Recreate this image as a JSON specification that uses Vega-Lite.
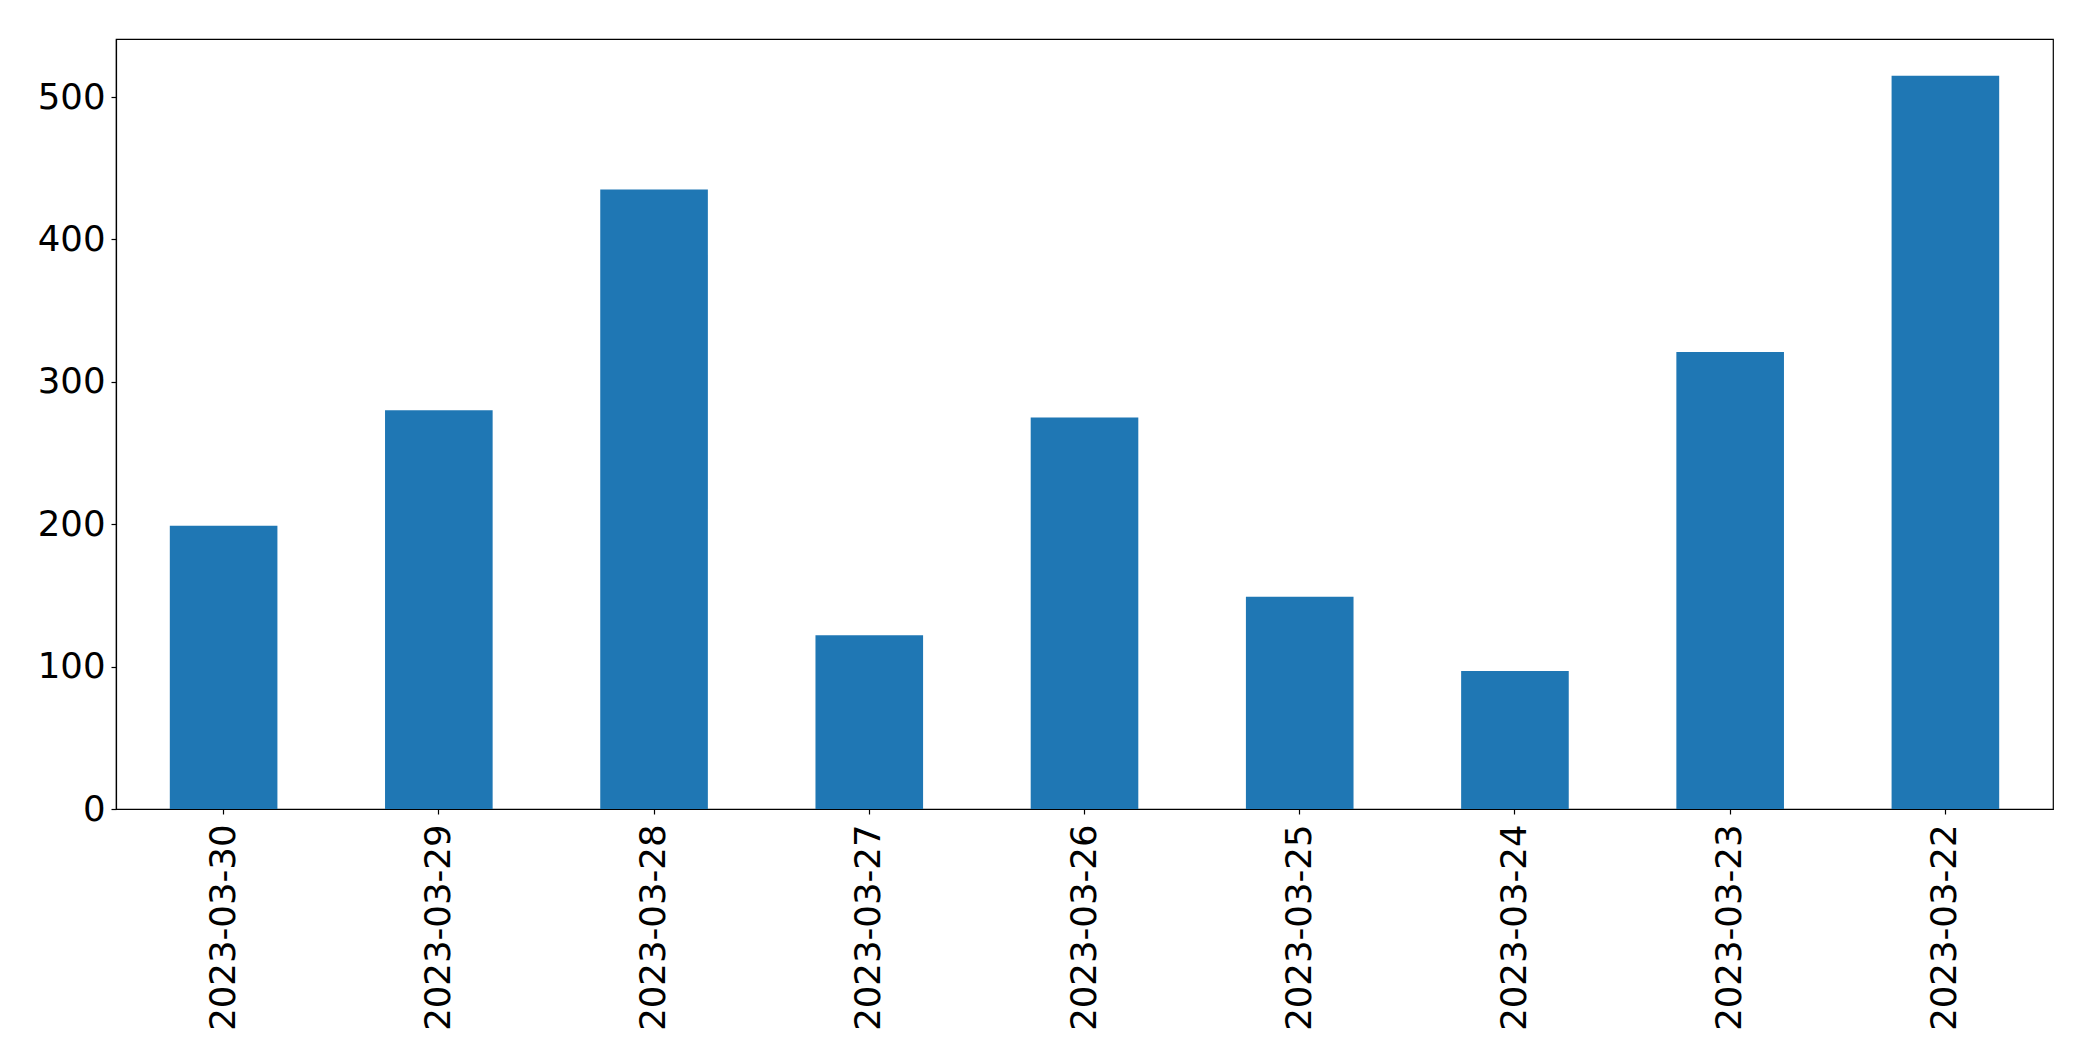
{
  "$schema": "https://vega.github.io/schema/vega-lite/v6.json",
  "width": 1937,
  "height": 770,
  "autosize": {"type": "none"},
  "padding": {"left": 116, "top": 39, "right": 40, "bottom": 252},
  "background": "white",
  "data": {"values": [
    {"date": "2023-03-30", "value": 199},
    {"date": "2023-03-29", "value": 280},
    {"date": "2023-03-28", "value": 435},
    {"date": "2023-03-27", "value": 122},
    {"date": "2023-03-26", "value": 275},
    {"date": "2023-03-25", "value": 149},
    {"date": "2023-03-24", "value": 97},
    {"date": "2023-03-23", "value": 321},
    {"date": "2023-03-22", "value": 515}
  ]},
  "mark": {"type": "bar", "color": "#1f77b4"},
  "encoding": {
    "x": {
      "field": "date", "type": "nominal", "sort": null,
      "scale": {"paddingInner": 0.5, "paddingOuter": 0.25},
      "axis": {"title": null, "labelAngle": -90, "labelLimit": 0, "labelFont": "DejaVu Sans", "labelFontSize": 35.5, "labelColor": "black", "labelPadding": 10, "tickColor": "black", "tickSize": 5, "tickWidth": 1.2, "domainColor": "black", "domainWidth": 1.2}
    },
    "y": {
      "field": "value", "type": "quantitative",
      "scale": {"domain": [0, 540.75], "nice": false},
      "axis": {"title": null, "values": [0, 100, 200, 300, 400, 500], "grid": false, "labelFont": "DejaVu Sans", "labelFontSize": 35.5, "labelColor": "black", "labelPadding": 6, "tickColor": "black", "tickSize": 5, "tickWidth": 1.2, "domainColor": "black", "domainWidth": 1.2}
    }
  },
  "config": {"view": {"stroke": "black", "strokeWidth": 1.2}}
}
